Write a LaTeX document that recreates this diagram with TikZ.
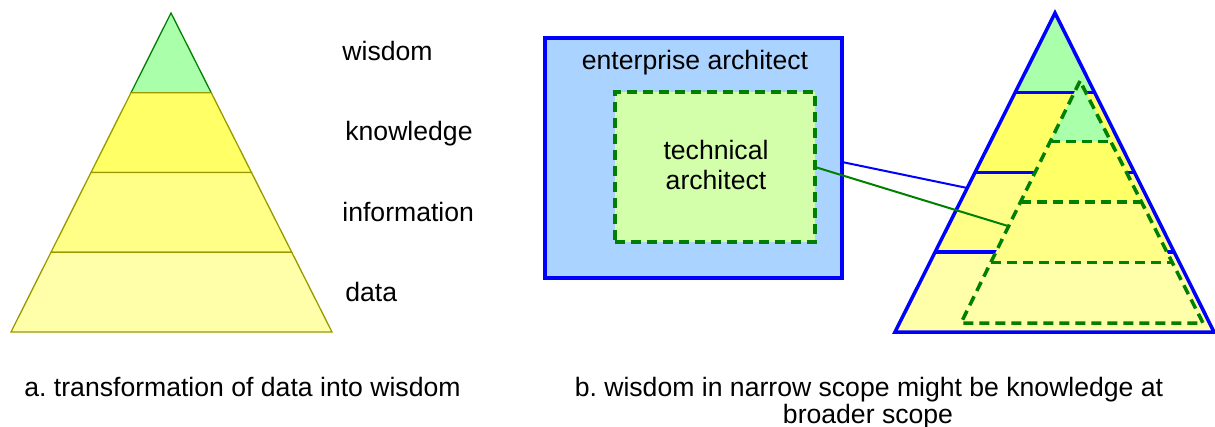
\documentclass[tikz,border=0pt]{standalone}
\usepackage{fontspec}
\setmainfont{Liberation Sans}
\frenchspacing
\usetikzlibrary{calc}
\definecolor{wis}{HTML}{AAFFAA}
\definecolor{kno}{HTML}{FFFF66}
\definecolor{inf}{HTML}{FFFF88}
\definecolor{dat}{HTML}{FFFFAA}
\definecolor{olivel}{HTML}{999900}
\definecolor{dgreen}{HTML}{008000}
\definecolor{eafill}{HTML}{AAD4FF}
\definecolor{tafill}{HTML}{D4FFAA}
\begin{document}
\begin{tikzpicture}[x=0.5pt,y=-0.5pt,
  txt/.style={font=\fontsize{13.3}{15}\selectfont, inner sep=0pt},
  lbl/.style={txt, anchor=base west},
  pyrline/.style={draw=olivel, line width=0.65pt},
  blueline/.style={draw=blue, line width=1.75pt},
  gdash/.style={draw=dgreen, line width=1.75pt, dash pattern=on 5pt off 3pt},
  conn/.style={line width=1pt}]
\useasboundingbox (0,0) rectangle (1215,427);

% ---------- left pyramid ----------
\coordinate (LA) at (171,13);
\coordinate (LL) at (11,332);
\coordinate (LR) at (332,332);
\foreach \i in {1,2,3}{
  \coordinate (Ll\i) at ($(LA)!\i/4!(LL)$);
  \coordinate (Lr\i) at ($(LA)!\i/4!(LR)$);
}
\filldraw[fill=wis, draw=dgreen, line width=0.65pt] (LA) -- (Ll1) -- (Lr1) -- cycle;
\filldraw[fill=kno, pyrline] (Ll1) -- (Ll2) -- (Lr2) -- (Lr1) -- cycle;
\filldraw[fill=inf, pyrline] (Ll2) -- (Ll3) -- (Lr3) -- (Lr2) -- cycle;
\filldraw[fill=dat, pyrline] (Ll3) -- (LL) -- (LR) -- (Lr3) -- cycle;

\node[lbl] (lw) at (342,61) {wisdom};
\node[lbl] (lk) at (345,141) {knowledge};
\node[lbl] (li) at (342,222) {information};
\node[lbl] (ld) at (345,301) {data};

% ---------- boxes ----------
\node[draw=blue, fill=eafill, line width=1.75pt, minimum width=148.5pt,
      minimum height=120pt, inner sep=0pt, outer sep=0pt] (ea) at (693.5,158) {};
\node[txt, anchor=base] (eat) at (695,70) {enterprise architect};
\node[fill=tafill, gdash, minimum width=100pt, minimum height=75pt,
      inner sep=0pt, outer sep=0pt] (ta) at (715,167) {};
\node[txt, anchor=base] (tat1) at (716,160) {technical};
\node[txt, anchor=base] (tat2) at (716,190) {architect};

% ---------- right pyramid ----------
\coordinate (RA) at (1055,13);
\coordinate (RL) at (895,332);
\coordinate (RR) at (1214,332);
\foreach \i in {1,2,3}{
  \coordinate (Rl\i) at ($(RA)!\i/4!(RL)$);
  \coordinate (Rr\i) at ($(RA)!\i/4!(RR)$);
}
\fill[wis] (RA) -- (Rl1) -- (Rr1) -- cycle;
\fill[kno] (Rl1) -- (Rl2) -- (Rr2) -- (Rr1) -- cycle;
\fill[inf] (Rl2) -- (Rl3) -- (Rr3) -- (Rr2) -- cycle;
\fill[dat] (Rl3) -- (RL) -- (RR) -- (Rr3) -- cycle;
\draw[blueline] (Rl1) -- (Rr1);
\draw[blueline] (Rl2) -- (Rr2);
\draw[blueline] (Rl3) -- (Rr3);

% inner dashed pyramid
\coordinate (IA) at (1080,81);
\coordinate (IL) at (961,323);
\coordinate (IR) at (1203,323);
\foreach \i in {1,2,3}{
  \coordinate (Il\i) at ($(IA)!\i/4!(IL)$);
  \coordinate (Ir\i) at ($(IA)!\i/4!(IR)$);
}
\fill[wis] (IA) -- (Il1) -- (Ir1) -- cycle;
\fill[kno] (Il1) -- (Il2) -- (Ir2) -- (Ir1) -- cycle;
\fill[inf] (Il2) -- (Il3) -- (Ir3) -- (Ir2) -- cycle;
\fill[dat] (Il3) -- (IL) -- (IR) -- (Ir3) -- cycle;
\draw[blueline] (RA) -- (RL) -- (RR) -- cycle;
\draw[gdash, line join=round] (IA) -- (IL) -- (IR) -- cycle;
\draw[gdash] (Il1) -- (Ir1);
\draw[gdash] (Il2) -- (Ir2);
\draw[gdash] (Il3) -- (Ir3);

% ---------- connectors ----------
\coordinate (eaR) at ($(ea.east)+(0,4)$);
\coordinate (RP) at ($(RA)!0.5486!(RL)$);
\coordinate (IP) at ($(IA)!0.6!(IL)$);
\draw[conn, blue] (eaR) -- (RP);
\draw[conn, dgreen] (ta.east) -- (IP);

% ---------- captions ----------
\node[txt, anchor=base] (capa) at (242.5,396) {a. transformation of data into wisdom};
\node[txt, anchor=base] (capb1) at (869,396) {b. wisdom in narrow scope might be knowledge at};
\node[txt, anchor=base] (capb2) at (868,423) {broader scope};
\end{tikzpicture}
\end{document}
